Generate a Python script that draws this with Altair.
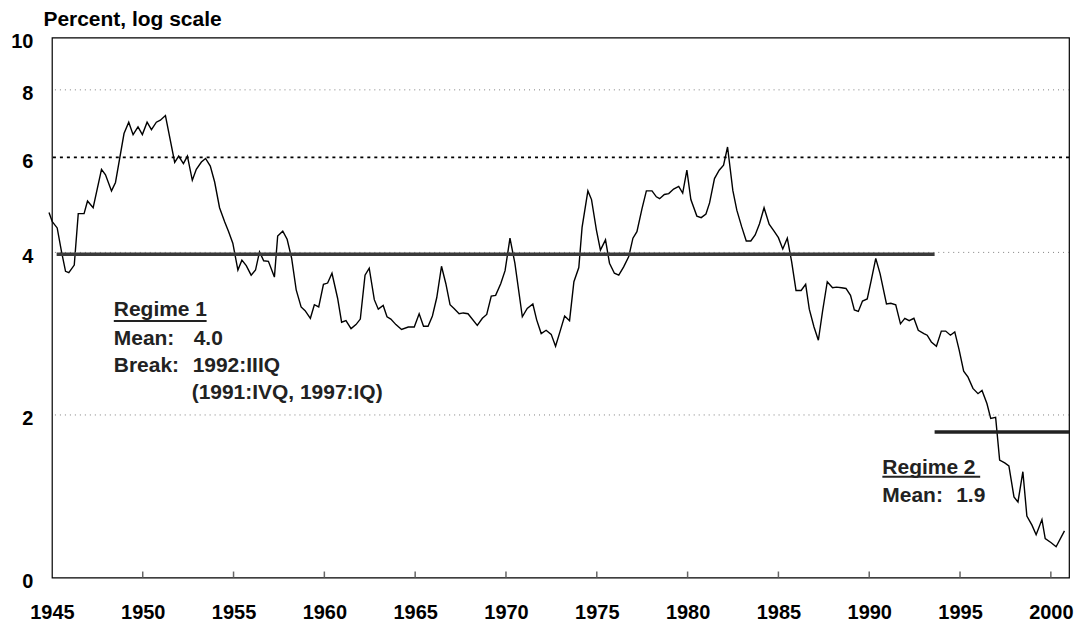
import altair as alt
import pandas as pd

# ---- data (quarterly series, percent) ----
years = [
    1944.84, 1945.02, 1945.29, 1945.53, 1945.75, 1945.93, 1946.23, 1946.45, 1946.77, 1946.96,
    1947.27, 1947.73, 1947.95, 1948.28, 1948.50, 1948.97, 1949.23, 1949.47, 1949.74, 1949.98,
    1950.24, 1950.48, 1950.75, 1950.97, 1951.25, 1951.76, 1951.98, 1952.24, 1952.46, 1952.73,
    1952.95, 1953.23, 1953.46, 1953.72, 1953.96, 1954.23, 1954.51, 1954.73, 1954.96, 1955.24,
    1955.46, 1955.70, 1955.97, 1956.21, 1956.43, 1956.66, 1956.92, 1957.25, 1957.43, 1957.71,
    1957.95, 1958.20, 1958.45, 1958.72, 1958.94, 1959.23, 1959.45, 1959.69, 1959.95, 1960.18,
    1960.42, 1960.73, 1960.95, 1961.19, 1961.47, 1961.74, 1961.98, 1962.24, 1962.47, 1962.75,
    1962.97, 1963.24, 1963.45, 1963.66, 1963.94, 1964.25, 1964.62, 1964.95, 1965.22, 1965.46,
    1965.71, 1965.95, 1966.19, 1966.45, 1966.69, 1966.92, 1967.14, 1967.42, 1967.65, 1967.91,
    1968.42, 1968.70, 1968.94, 1969.19, 1969.43, 1969.71, 1969.95, 1970.22, 1970.49, 1970.90,
    1971.17, 1971.48, 1971.69, 1971.94, 1972.21, 1972.49, 1972.73, 1972.97, 1973.23, 1973.50,
    1973.74, 1974.01, 1974.19, 1974.51, 1974.71, 1974.98, 1975.20, 1975.48, 1975.70, 1975.97,
    1976.21, 1976.48, 1976.76, 1976.99, 1977.21, 1977.49, 1977.73, 1978.04, 1978.28, 1978.46,
    1978.72, 1978.96, 1979.23, 1979.51, 1979.73, 1979.96, 1980.18, 1980.51, 1980.75, 1981.01,
    1981.21, 1981.48, 1981.74, 1981.98, 1982.20, 1982.49, 1982.71, 1982.98, 1983.23, 1983.48,
    1983.72, 1983.96, 1984.21, 1984.49, 1984.76, 1985.00, 1985.24, 1985.49, 1985.73, 1985.97,
    1986.25, 1986.50, 1986.70, 1986.96, 1987.20, 1987.43, 1987.69, 1987.98, 1988.20, 1988.48,
    1988.72, 1988.97, 1989.18, 1989.40, 1989.63, 1989.89, 1990.11, 1990.36, 1990.60, 1990.95,
    1991.19, 1991.46, 1991.72, 1991.96, 1992.20, 1992.46, 1992.70, 1993.01, 1993.19, 1993.42,
    1993.70, 1993.97, 1994.21, 1994.47, 1994.71, 1994.95, 1995.20, 1995.44, 1995.71, 1995.99,
    1996.21, 1996.48, 1996.69, 1996.96, 1997.18, 1997.46, 1997.69, 1997.97, 1998.19, 1998.46,
    1998.68, 1998.96, 1999.19, 1999.51, 1999.69, 2000.02, 2000.29, 2000.75,
]
rate = [
    4.74, 4.56, 4.44, 4.01, 3.69, 3.67, 3.79, 4.72, 4.72, 4.98,
    4.84, 5.70, 5.57, 5.20, 5.39, 6.64, 6.97, 6.61, 6.83, 6.61,
    6.97, 6.75, 6.97, 7.03, 7.17, 5.87, 6.03, 5.84, 6.03, 5.44,
    5.70, 5.88, 5.97, 5.78, 5.40, 4.84, 4.56, 4.37, 4.16, 3.71,
    3.87, 3.78, 3.63, 3.71, 4.01, 3.86, 3.85, 3.60, 4.29, 4.38,
    4.23, 3.90, 3.41, 3.17, 3.12, 3.02, 3.20, 3.17, 3.49, 3.51,
    3.66, 3.29, 2.97, 2.99, 2.89, 2.94, 3.01, 3.63, 3.74, 3.27,
    3.14, 3.19, 3.04, 3.01, 2.94, 2.88, 2.91, 2.91, 3.08, 2.92,
    2.92, 3.05, 3.30, 3.77, 3.50, 3.20, 3.15, 3.08, 3.09, 3.08,
    2.93, 3.02, 3.07, 3.32, 3.33, 3.50, 3.70, 4.25, 3.82, 3.04,
    3.15, 3.21, 3.00, 2.83, 2.87, 2.82, 2.68, 2.85, 3.05, 2.99,
    3.53, 3.75, 4.45, 5.20, 5.01, 4.40, 4.04, 4.22, 3.82, 3.66,
    3.63, 3.76, 3.93, 4.25, 4.37, 4.82, 5.20, 5.20, 5.07, 5.03,
    5.12, 5.14, 5.24, 5.30, 5.15, 5.68, 5.01, 4.67, 4.64, 4.71,
    4.94, 5.48, 5.68, 5.80, 6.27, 5.21, 4.79, 4.46, 4.20, 4.20,
    4.31, 4.52, 4.84, 4.51, 4.38, 4.26, 4.06, 4.25, 3.84, 3.40,
    3.40, 3.49, 3.14, 2.91, 2.75, 3.11, 3.53, 3.44, 3.45, 3.44,
    3.43, 3.33, 3.13, 3.11, 3.25, 3.28, 3.55, 3.90, 3.65, 3.21,
    3.22, 3.20, 2.95, 3.02, 2.99, 3.02, 2.87, 2.83, 2.81, 2.73,
    2.68, 2.86, 2.86, 2.81, 2.85, 2.64, 2.41, 2.35, 2.24, 2.19,
    2.22, 2.10, 1.97, 1.98, 1.65, 1.63, 1.61, 1.41, 1.38, 1.57,
    1.30, 1.25, 1.20, 1.28, 1.18, 1.16, 1.14, 1.22,
]

x_ticks = [1945, 1950, 1955, 1960, 1965, 1970, 1975, 1980, 1985, 1990, 1995, 2000]
y_ticks = [1, 2, 4, 6, 8, 10]
grid_light = [2, 4, 8]
grid_dark = [6]

regime1_start, regime1_end, regime1_mean = [1945.26], [1993.6], [3.97]
regime2_start, regime2_end, regime2_mean = [1993.6], [2001.0], [1.86]

# ---- layout / style ----
W, H = 1019, 541
FONT = "Liberation Sans"
AFS = 20   # axis labels
TFS = 21   # axis title
NFS = 21   # annotations
TXT = "#222222"

xs = alt.Scale(domain=[1945, 2001], nice=False, zero=False)
ys = alt.Scale(type="log", domain=[1, 10], nice=False)

df = pd.DataFrame({"year": years, "rate": rate})
one = pd.DataFrame({"k": [0]})

x_axis = alt.Axis(values=x_ticks, format="d", tickSize=0, domain=False, grid=False,
                  labelFont=FONT, labelFontSize=AFS, labelFontWeight="bold",
                  labelColor="black", labelPadding=25, labelOverlap=False,
                  labelFlush=False, title=None)
y_axis = alt.Axis(values=y_ticks,
                  labelExpr="datum.value == 1 ? '0' : format(datum.value, 'd')",
                  tickSize=0, domain=False, grid=False, labelFont=FONT,
                  labelFontSize=AFS, labelFontWeight="bold", labelColor="black",
                  labelPadding=19, labelOffset=4, labelOverlap=False, labelFlush=False,
                  title="Percent, log scale", titleAngle=0, titleAlign="left",
                  titleBaseline="alphabetic", titleX=-9, titleY=-12, titleFont=FONT,
                  titleFontSize=TFS, titleFontWeight="bold", titleColor="black")

X = lambda f: alt.X(f, scale=xs, axis=x_axis)
Y = lambda f: alt.Y(f, scale=ys, axis=y_axis)

line = alt.Chart(df).mark_line(color="black", strokeWidth=1.4).encode(
    x=X("year:Q"), y=Y("rate:Q"))

grid_l = alt.Chart(pd.DataFrame({"g": grid_light})).mark_rule(
    color="#808080", strokeDash=[1, 4], strokeWidth=1
).encode(y=Y("g:Q"))

grid_d = alt.Chart(pd.DataFrame({"g": grid_dark})).mark_rule(
    color="black", strokeDash=[3, 4], strokeWidth=1.8
).encode(y=Y("g:Q"))

ticks = alt.Chart(pd.DataFrame({"t": x_ticks[1:]})).mark_rule(
    color="#666666", strokeWidth=1.5
).encode(x=X("t:Q"), y=alt.value(H), y2=alt.value(H - 6))

reg1 = alt.Chart(pd.DataFrame({"s": regime1_start, "e": regime1_end, "m": regime1_mean})).mark_rule(
    color="#3a3a3a", strokeWidth=3.5
).encode(x=X("s:Q"), x2="e:Q", y=Y("m:Q"))

reg2 = alt.Chart(pd.DataFrame({"s": regime2_start, "e": regime2_end, "m": regime2_mean})).mark_rule(
    color="#222222", strokeWidth=3.5
).encode(x=X("s:Q"), x2="e:Q", y=Y("m:Q"))


def label(text, x, y):
    return alt.Chart(one).mark_text(
        text=text, align="left", baseline="alphabetic", font=FONT,
        fontSize=NFS, fontWeight="bold", color=TXT
    ).encode(x=alt.value(x), y=alt.value(y))


def underline(x1, x2, y):
    return alt.Chart(one).mark_rule(color=TXT, strokeWidth=2).encode(
        x=alt.value(x1), x2=alt.value(x2), y=alt.value(y))


annotations = [
    label("Regime 1", 62, 279), underline(62, 155, 284),
    label("Mean:", 62, 308), label("4.0", 142, 308),
    label("Break:", 62, 335), label("1992:IIIQ", 141, 335),
    label("(1991:IVQ, 1997:IQ)", 140, 362),
    label("Regime 2", 832, 437), underline(832, 930, 440),
    label("Mean:", 832, 465), label("1.9", 906, 465),
]

chart = alt.layer(line, grid_l, grid_d, ticks, reg1, reg2, *annotations).properties(
    width=W, height=H,
    padding={"left": 44, "top": 29, "right": 5, "bottom": 45},
    autosize=alt.AutoSizeParams(type="none"),
).configure_view(stroke="black", strokeWidth=1.2)

chart.save("out.html", embed_options={"renderer": "svg", "actions": False})
